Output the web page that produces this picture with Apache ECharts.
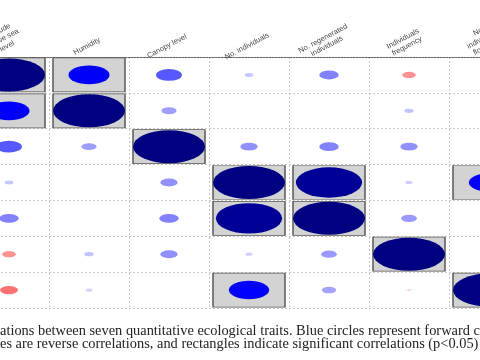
<!DOCTYPE html>
<html>
<head>
<meta charset="utf-8">
<script src="https://cdn.jsdelivr.net/npm/echarts@6/dist/echarts.min.js"></script>
<style>html,body{margin:0;padding:0;background:#fff;}#c{width:480px;height:360px;}</style>
</head>
<body>
<div id="c"></div>
<script>
// Trait names (column labels, top)
const traits = [
  'Altitude\nabove sea\nlevel',
  'Humidity',
  'Canopy level',
  'No. individuals',
  'No. regenerated\nindividuals',
  'Individuals\nfrequency',
  'No.\nindividuals\nflowering'
];
// Correlation matrix rows
const row0 = [1, 0.57, 0.36, 0.12, 0.27, -0.19, -0.25];
const row1 = [0.57, 1, 0.21, 0.02, 0.02, 0.13, 0.10];
const row2 = [0.36, 0.21, 1, 0.24, 0.27, 0.24, 0.02];
const row3 = [0.12, 0.02, 0.24, 1, 0.92, 0.10, 0.56];
const row4 = [0.27, 0.02, 0.27, 0.92, 1, 0.22, 0.20];
const row5 = [-0.19, 0.13, 0.24, 0.10, 0.22, 1, -0.07];
const row6 = [-0.25, 0.10, 0.02, 0.56, 0.20, -0.07, 1];
// Significant pairs (p<0.05), off-diagonal
const significant = [[0, 1], [3, 4], [3, 6]];
// Caption lines (visible part)
const caption1 = 'ations between seven quantitative ecological traits. Blue circles represent forward c';
const caption2 = 'es are reverse correlations, and rectangles indicate significant correlations (p<0.05)';

const matrix = [row0, row1, row2, row3, row4, row5, row6];

function colorOf(r) {
  function mix(a, b, t) {
    return 'rgb(' + a.map((v, i) => Math.round(v + (b[i] - v) * t)).join(',') + ')';
  }
  const white = [255, 255, 255], blue = [0, 0, 255], navy = [0, 0, 128], red = [255, 0, 0], dred = [128, 0, 0];
  if (r >= 0) {
    if (r <= 0.55) return mix(white, blue, r / 0.55);
    return mix(blue, navy, (r - 0.55) / 0.45);
  } else {
    const a = -r;
    if (a <= 0.45) return mix(white, red, a / 0.45);
    return mix(red, dred, (a - 0.45) / 0.55);
  }
}

const ellipseData = [];
const rectData = [];
matrix.forEach((row, i) => {
  row.forEach((v, j) => {
    ellipseData.push([j, i, v]);
    if (i === j) rectData.push([j, i]);
  });
});
significant.forEach(([a, b]) => { rectData.push([b, a]); rectData.push([a, b]); });

const chart = echarts.init(document.getElementById('c'), null, { renderer: 'canvas' });
chart.setOption({
  animation: false,
  backgroundColor: '#fff',
  grid: { left: -31, top: 57, width: 560, height: 251, containLabel: false, outerBoundsMode: 'none' },
  xAxis: {
    type: 'category',
    position: 'top',
    data: traits,
    boundaryGap: true,
    axisLine: { show: true, lineStyle: { color: '#666', width: 1, type: [2, 1] } },
    axisTick: { show: false },
    axisLabel: {
      interval: 0,
      rotate: -28,
      align: 'center',
      verticalAlign: 'bottom',
      margin: 7,
      fontSize: 7.5,
      lineHeight: 8.5,
      color: '#444',
      hideOverlap: false,
      fontFamily: 'Liberation Sans, Arial, sans-serif'
    },
    splitLine: { show: true, lineStyle: { color: '#c8c8c8', type: [2, 2], width: 1 } }
  },
  yAxis: {
    type: 'category',
    inverse: true,
    data: traits.map(t => t.replace(/\n/g, ' ')),
    boundaryGap: true,
    axisLine: { show: false },
    axisTick: { show: false },
    axisLabel: { show: false },
    splitLine: { show: true, lineStyle: { color: '#c8c8c8', type: [2, 2], width: 1 } }
  },
  series: [
    {
      type: 'scatter',
      data: rectData,
      symbol: 'rect',
      symbolSize: [72, 34],
      itemStyle: { color: '#d3d3d3', borderColor: '#555', borderWidth: 1, opacity: 1 },
      z: 2,
      silent: true
    },
    {
      type: 'scatter',
      data: ellipseData,
      symbol: 'circle',
      symbolSize: function (val) { const a = Math.abs(val[2]); return [72 * a, 33 * a]; },
      itemStyle: { color: function (p) { return colorOf(p.value[2]); }, opacity: 1 },
      z: 3,
      silent: true
    }
  ],
  graphic: [
    { type: 'text', left: 0, top: 324, style: { text: caption1, font: '14.4px "Liberation Serif", "Times New Roman", serif', fill: '#222' } },
    { type: 'text', left: 0, top: 337.5, style: { text: caption2, font: '14.4px "Liberation Serif", "Times New Roman", serif', fill: '#222' } }
  ]
});
</script>
</body>
</html>
